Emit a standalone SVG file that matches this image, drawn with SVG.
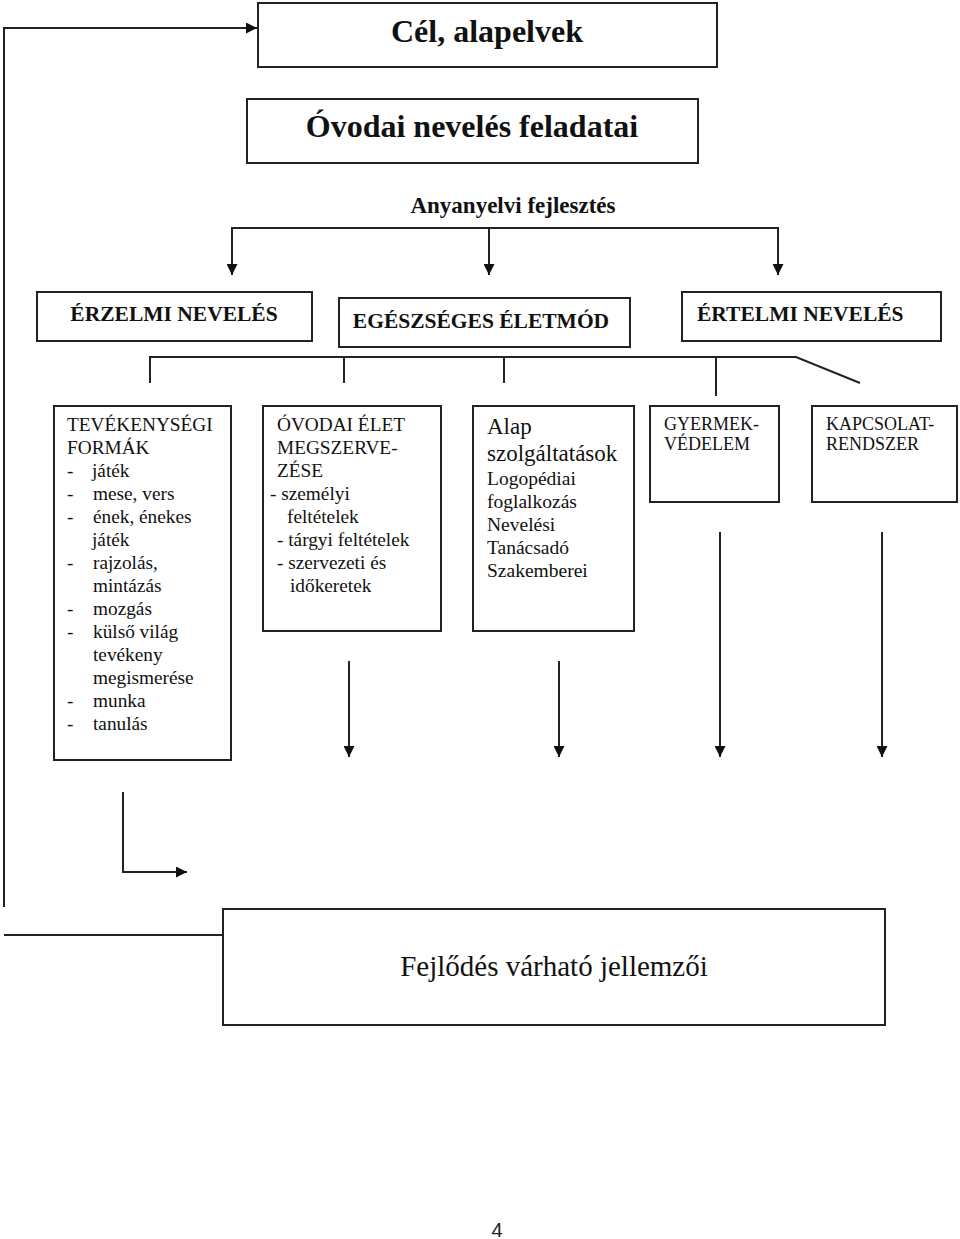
<svg xmlns="http://www.w3.org/2000/svg" width="960" height="1239" viewBox="0 0 960 1239">
<style>
.box{fill:#fff;stroke:#222;stroke-width:2}
.ln{fill:none;stroke:#222;stroke-width:2}
.t{font-family:"Liberation Serif","Times New Roman",serif;fill:#111}
.b{font-weight:bold}
.s17{font-size:19.3px}
</style>
<defs>
<marker id="ah" viewBox="0 0 10 10" refX="10" refY="5" markerWidth="11" markerHeight="11" markerUnits="userSpaceOnUse" orient="auto">
<path d="M0,0 L10,5 L0,10 Z" fill="#111"/>
</marker>
</defs>
<rect width="960" height="1239" fill="#fff"/>
<g id="connectors">
<polyline class="ln" points="4,907 4,28 257,28" marker-end="url(#ah)"/>
<polyline class="ln" points="4,935 223,935"/>
<polyline class="ln" points="232,275 232,228 778,228 778,275" marker-end="url(#ah)"/>
<line class="ln" x1="232" y1="228" x2="232" y2="275" marker-end="url(#ah)"/>
<line class="ln" x1="489" y1="228" x2="489" y2="275" marker-end="url(#ah)"/>
<polyline class="ln" points="150,383 150,357 796,357 860,383"/>
<line class="ln" x1="344" y1="357" x2="344" y2="383"/>
<line class="ln" x1="504" y1="357" x2="504" y2="383"/>
<line class="ln" x1="716" y1="357" x2="716" y2="396"/>
<line class="ln" x1="349" y1="661" x2="349" y2="757" marker-end="url(#ah)"/>
<line class="ln" x1="559" y1="661" x2="559" y2="757" marker-end="url(#ah)"/>
<line class="ln" x1="720" y1="532" x2="720" y2="757" marker-end="url(#ah)"/>
<line class="ln" x1="882" y1="532" x2="882" y2="757" marker-end="url(#ah)"/>
<polyline class="ln" points="123,792 123,872 187,872" marker-end="url(#ah)"/>
</g>
<g id="cel">
<rect class="box" x="258" y="3" width="459" height="64"/>
<text class="t b" x="487" y="42" font-size="32" text-anchor="middle">Cél, alapelvek</text>
</g>
<g id="feladatai">
<rect class="box" x="247" y="99" width="451" height="64"/>
<text class="t b" x="472" y="137" font-size="32" text-anchor="middle">Óvodai nevelés feladatai</text>
</g>
<g id="anyanyelvi">
<text class="t b" x="513" y="213" font-size="23" text-anchor="middle">Anyanyelvi fejlesztés</text>
</g>
<g id="erzelmi">
<rect class="box" x="37" y="292" width="275" height="49"/>
<text class="t b" x="174" y="321" font-size="21.5" text-anchor="middle">ÉRZELMI NEVELÉS</text>
</g>
<g id="egeszseges">
<rect class="box" x="339" y="298" width="291" height="49"/>
<text class="t b" x="481" y="328" font-size="21.5" text-anchor="middle">EGÉSZSÉGES ÉLETMÓD</text>
</g>
<g id="ertelmi">
<rect class="box" x="682" y="292" width="259" height="49"/>
<text class="t b" x="697" y="321" font-size="21.5">ÉRTELMI NEVELÉS</text>
</g>
<g id="tevekenysegi">
<rect class="box" x="54" y="406" width="177" height="354"/>
<g class="t s17">
<text x="67" y="431">TEVÉKENYSÉGI</text>
<text x="67" y="454">FORMÁK</text>
<text x="67" y="477">-</text><text x="92" y="477">játék</text>
<text x="67" y="500">-</text><text x="93" y="500">mese, vers</text>
<text x="67" y="523">-</text><text x="93" y="523">ének, énekes</text>
<text x="92" y="546">játék</text>
<text x="67" y="569">-</text><text x="93" y="569">rajzolás,</text>
<text x="93" y="592">mintázás</text>
<text x="67" y="615">-</text><text x="93" y="615">mozgás</text>
<text x="67" y="638">-</text><text x="93" y="638">külső világ</text>
<text x="93" y="661">tevékeny</text>
<text x="93" y="684">megismerése</text>
<text x="67" y="707">-</text><text x="93" y="707">munka</text>
<text x="67" y="730">-</text><text x="93" y="730">tanulás</text>
</g>
</g>
<g id="ovodai-elet">
<rect class="box" x="263" y="406" width="178" height="225"/>
<g class="t s17">
<text x="277" y="431">ÓVODAI ÉLET</text>
<text x="277" y="454">MEGSZERVE-</text>
<text x="277" y="477">ZÉSE</text>
<text x="270" y="500">- személyi</text>
<text x="287" y="523">feltételek</text>
<text x="277" y="546">- tárgyi feltételek</text>
<text x="277" y="569">- szervezeti és</text>
<text x="290" y="592">időkeretek</text>
</g>
</g>
<g id="alap">
<rect class="box" x="473" y="406" width="161" height="225"/>
<g class="t">
<text x="487" y="434" font-size="23">Alap</text>
<text x="487" y="461" font-size="23">szolgáltatások</text>
<text x="487" y="485" font-size="19.5">Logopédiai</text>
<text x="487" y="508" font-size="19.5">foglalkozás</text>
<text x="487" y="531" font-size="19.5">Nevelési</text>
<text x="487" y="554" font-size="19.5">Tanácsadó</text>
<text x="487" y="577" font-size="19.5">Szakemberei</text>
</g>
</g>
<g id="gyermekvedelem">
<rect class="box" x="650" y="406" width="129" height="96"/>
<text class="t" x="664" y="430" font-size="18">GYERMEK-</text>
<text class="t" x="664" y="450" font-size="18">VÉDELEM</text>
</g>
<g id="kapcsolatrendszer">
<rect class="box" x="812" y="406" width="145" height="96"/>
<text class="t" x="826" y="430" font-size="18">KAPCSOLAT-</text>
<text class="t" x="826" y="450" font-size="18">RENDSZER</text>
</g>
<g id="fejlodes">
<rect class="box" x="223" y="909" width="662" height="116"/>
<text class="t" x="554" y="976" font-size="29" text-anchor="middle">Fejlődés várható jellemzői</text>
</g>
<text x="497" y="1237" font-family="Liberation Sans, Arial, sans-serif" font-size="20" text-anchor="middle" fill="#222">4</text>
</svg>
